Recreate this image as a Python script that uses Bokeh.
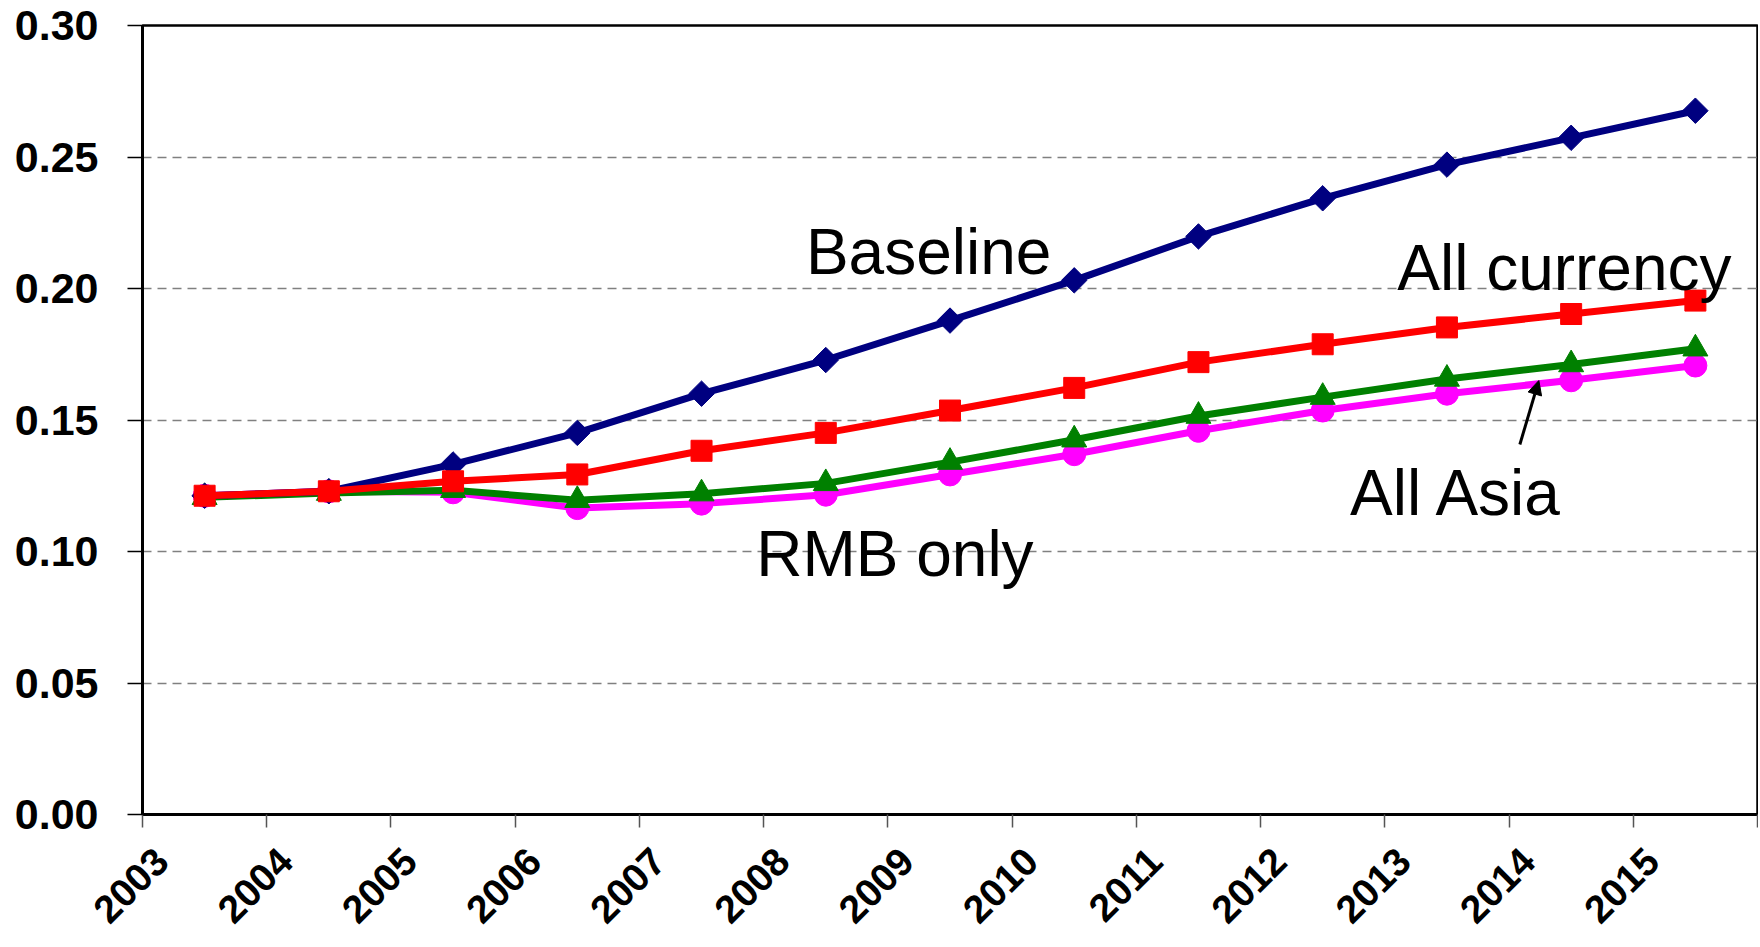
import math
from bokeh.plotting import figure
from bokeh.models import FixedTicker, NumeralTickFormatter, Label, Arrow, NormalHead, LinearAxis
from bokeh.embed import file_html
from bokeh.resources import INLINE

years = [2003.5, 2004.5, 2005.5, 2006.5, 2007.5, 2008.5, 2009.5, 2010.5, 2011.5, 2012.5, 2013.5, 2014.5, 2015.5]
baseline = [0.1212, 0.1229, 0.1331, 0.1451, 0.1600, 0.1728, 0.1878, 0.2031, 0.2198, 0.2343, 0.2471, 0.2573, 0.2676]
all_currency = [0.1212, 0.1229, 0.1267, 0.1293, 0.1383, 0.1451, 0.1536, 0.1622, 0.1720, 0.1788, 0.1852, 0.1903, 0.1954]
all_asia = [0.1206, 0.1222, 0.1233, 0.1195, 0.1220, 0.1259, 0.1340, 0.1425, 0.1515, 0.1587, 0.1656, 0.1711, 0.1771]
rmb_only = [0.1212, 0.1229, 0.1225, 0.1165, 0.1182, 0.1216, 0.1293, 0.1370, 0.1459, 0.1536, 0.1600, 0.1651, 0.1707]

x_ticks = list(range(2003, 2017))
x_label_years = list(range(2003, 2016))
y_ticks = [0.0, 0.05, 0.10, 0.15, 0.20, 0.25, 0.30]

FONT = "Liberation Sans"
LABEL_SHIFT = 0.153  # horizontal offset of the rotated year labels from their ticks

p = figure(width=1758, height=947, x_range=(2003, 2016), y_range=(0, 0.30),
           output_backend="svg", toolbar_location=None,
           min_border_left=142, min_border_top=25, min_border_bottom=133, min_border_right=1)
p.background_fill_color = "white"
p.border_fill_color = "white"
p.outline_line_color = "black"
p.outline_line_width = 2.5

p.xgrid.grid_line_color = None
p.ygrid.grid_line_color = "#808080"
p.ygrid.grid_line_dash = "9 6"
p.ygrid.grid_line_width = 1.5

p.yaxis.ticker = FixedTicker(ticks=y_ticks)
p.yaxis.formatter = NumeralTickFormatter(format="0.00")
p.yaxis.minor_tick_line_color = None
p.yaxis.major_tick_in = 0
p.yaxis.major_tick_out = 15
p.yaxis.major_tick_line_color = "black"
p.yaxis.major_tick_line_width = 1.5
p.yaxis.axis_line_color = "black"
p.yaxis.axis_line_width = 3
p.yaxis.major_label_text_font = FONT
p.yaxis.major_label_text_font_style = "bold"
p.yaxis.major_label_text_font_size = "43px"
p.yaxis.major_label_text_color = "black"
p.yaxis.major_label_standoff = 29

# tick marks only
p.xaxis.ticker = FixedTicker(ticks=x_ticks)
p.xaxis.major_label_overrides = {t: "" for t in x_ticks}
p.xaxis.major_label_text_font_size = "0px"
p.xaxis.major_label_standoff = 0
p.xaxis.minor_tick_line_color = None
p.xaxis.major_tick_in = 0
p.xaxis.major_tick_out = 13
p.xaxis.major_tick_line_color = "#555555"
p.xaxis.major_tick_line_width = 1.5
p.xaxis.axis_line_color = "black"
p.xaxis.axis_line_width = 3

# year labels
label_pos = [y + LABEL_SHIFT for y in x_label_years]
lab_axis = LinearAxis(ticker=FixedTicker(ticks=label_pos),
                      major_label_overrides={pos: str(y) for pos, y in zip(label_pos, x_label_years)},
                      axis_line_color=None, major_tick_line_color=None, minor_tick_line_color=None,
                      major_tick_in=0, major_tick_out=0,
                      major_label_text_font=FONT, major_label_text_font_style="bold",
                      major_label_text_font_size="39px", major_label_text_color="black",
                      major_label_orientation=math.pi / 4, major_label_standoff=27)
p.add_layout(lab_axis, "below")

LW = 7
# RMB only
p.line(years, rmb_only, line_color="#FF00FF", line_width=LW)
p.scatter(years, rmb_only, marker="circle", size=23, fill_color="#FF00FF", line_color="#FF00FF")
# All Asia
p.line(years, all_asia, line_color="#008000", line_width=LW)
p.scatter(years, all_asia, marker="triangle", size=25, fill_color="#008000", line_color="#008000")
# Baseline
p.line(years, baseline, line_color="#000080", line_width=LW)
p.scatter(years, baseline, marker="square", size=18, angle=math.pi / 4, fill_color="#000080", line_color="#000080")
# All currency
p.line(years, all_currency, line_color="#FF0000", line_width=LW)
p.scatter(years, all_currency, marker="square", size=21, fill_color="#FF0000", line_color="#FF0000")

labels = [
    ("Baseline", 2008.34, 0.2139),
    ("All currency", 2013.10, 0.2078),
    ("RMB only", 2007.94, 0.0990),
    ("All Asia", 2012.72, 0.1222),
]
for txt, lx, ly in labels:
    p.add_layout(Label(x=lx, y=ly, text=txt, text_font=FONT, text_font_size="64px",
                       text_color="black", text_baseline="alphabetic", text_align="left"))

p.add_layout(Arrow(x_start=2014.087, y_start=0.1407, x_end=2014.24, y_end=0.1650,
                   line_color="black", line_width=3,
                   end=NormalHead(size=14, fill_color="black", line_color="black")))

open("out.html", "w").write(file_html(p, INLINE))
